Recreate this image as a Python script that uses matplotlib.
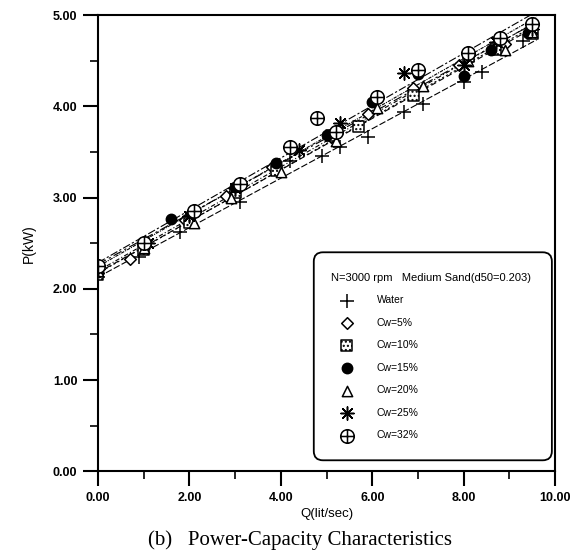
import numpy as np
import matplotlib.pyplot as plt
from matplotlib.path import Path
from matplotlib.patches import FancyBboxPatch
from matplotlib.ticker import MultipleLocator

plt.rcParams['font.family'] = ['Liberation Sans', 'DejaVu Sans']
plt.rcParams['hatch.linewidth'] = 1.0

# measured points for each slurry concentration
q_water = [0.0, 0.9, 1.8, 3.1, 4.2, 4.9, 5.3, 5.9, 6.7, 7.1, 8.0, 8.4, 9.3]
p_water = [2.13, 2.35, 2.62, 2.95, 3.40, 3.46, 3.55, 3.66, 3.94, 4.02, 4.27, 4.38, 4.72]

q_cw5 = [0.0, 0.7, 1.9, 2.8, 3.8, 5.1, 5.9, 6.9, 7.9, 8.9, 9.5]
p_cw5 = [2.17, 2.33, 2.75, 3.02, 3.33, 3.66, 3.92, 4.20, 4.45, 4.68, 4.86]

q_cw10 = [0.0, 1.0, 2.0, 3.0, 3.9, 5.1, 5.7, 6.9, 8.1, 8.7, 9.5]
p_cw10 = [2.15, 2.43, 2.72, 3.05, 3.30, 3.68, 3.78, 4.12, 4.55, 4.62, 4.80]

q_cw15 = [0.0, 1.0, 1.6, 3.0, 3.9, 5.0, 6.0, 7.0, 8.0, 8.6, 9.4]
p_cw15 = [2.18, 2.48, 2.76, 3.12, 3.38, 3.69, 4.05, 4.35, 4.33, 4.62, 4.80]

q_cw20 = [0.0, 1.0, 2.1, 2.9, 4.0, 5.2, 6.1, 7.1, 8.1, 8.9, 9.5]
p_cw20 = [2.20, 2.45, 2.72, 3.00, 3.28, 3.62, 3.98, 4.22, 4.50, 4.62, 4.82]

q_cw25 = [0.0, 1.1, 2.0, 3.0, 4.4, 5.3, 6.7, 8.0, 8.7, 9.5]
p_cw25 = [2.22, 2.50, 2.80, 3.10, 3.52, 3.82, 4.36, 4.45, 4.70, 4.85]

q_cw32 = [0.0, 1.0, 2.1, 3.1, 4.2, 4.8, 5.2, 6.1, 7.0, 8.1, 8.8, 9.5]
p_cw32 = [2.25, 2.50, 2.85, 3.15, 3.55, 3.87, 3.72, 4.10, 4.40, 4.58, 4.75, 4.90]

labels = ["Water", "Cw=5%", "Cw=10%", "Cw=15%", "Cw=20%", "Cw=25%", "Cw=32%"]
series = [(q_water, p_water), (q_cw5, p_cw5), (q_cw10, p_cw10), (q_cw15, p_cw15),
          (q_cw20, p_cw20), (q_cw25, p_cw25), (q_cw32, p_cw32)]

# circle with a cross inside
oplus = Path.make_compound_path(
    Path.unit_circle(),
    Path([[-1, 0], [1, 0]], [Path.MOVETO, Path.LINETO]),
    Path([[0, -1], [0, 1]], [Path.MOVETO, Path.LINETO]),
)

markers = ['+', 'D', 's', 'o', '^', (8, 2, 0), oplus]
sizes = [90, 35, 60, 55, 55, 90, 95]
faces = ['black', 'white', 'white', 'black', 'white', 'black', 'white']
hatches = [None, None, '....', None, None, None, None]
dashes = [(6, 2), (4, 2, 1, 2), (2, 2), (8, 3, 2, 3), (5, 3), (3, 1, 1, 1), (7, 2, 2, 2)]

fig = plt.figure(figsize=(5.77, 5.59), dpi=100)
ax = fig.add_axes([0.170, 0.157, 0.792, 0.816])

xfit = np.array([0.0, 9.6])
handles = []
for i, (q, p) in enumerate(series):
    q = np.array(q)
    p = np.array(p)
    # least-squares line through each series
    a, b = np.polyfit(q, p, 1)
    ax.plot(xfit, a * xfit + b, color='black', lw=0.8, dashes=dashes[i], zorder=2)
    h = ax.scatter(q, p, marker=markers[i], s=sizes[i], facecolors=faces[i],
                   edgecolors='black', linewidths=1.1, hatch=hatches[i],
                   label=labels[i], zorder=3)
    handles.append(h)

ax.set_xlim(0, 10)
ax.set_ylim(0, 5)
ax.xaxis.set_major_locator(MultipleLocator(2))
ax.xaxis.set_minor_locator(MultipleLocator(1))
ax.yaxis.set_major_locator(MultipleLocator(1))
ax.yaxis.set_minor_locator(MultipleLocator(0.5))
ax.xaxis.set_major_formatter(lambda v, pos: f"{v:.2f}")
ax.yaxis.set_major_formatter(lambda v, pos: f"{v:.2f}")
ax.tick_params(which='major', direction='out', length=11, width=1.5,
               labelsize=9, pad=4)
ax.tick_params(which='minor', direction='out', length=6, width=1.2)
for lab in ax.get_xticklabels() + ax.get_yticklabels():
    lab.set_fontweight('bold')
for s in ax.spines.values():
    s.set_linewidth(1.5)

ax.set_xlabel("Q(lit/sec)", fontsize=9.5, labelpad=3)
ax.set_ylabel("P(kW)", fontsize=10, labelpad=12)

# rounded legend frame
box = FancyBboxPatch((0.472, 0.024), 0.521, 0.456,
                     boxstyle="round,pad=0,rounding_size=0.02",
                     transform=ax.transAxes, facecolor='white',
                     edgecolor='black', linewidth=1.3, zorder=4)
ax.add_patch(box)

leg = ax.legend(handles=handles, title="N=3000 rpm   Medium Sand(d50=0.203)",
                loc='upper left', bbox_to_anchor=(0.51, 0.435),
                fontsize=7.5, title_fontsize=8, frameon=False,
                labelspacing=1.2, handlelength=3.0, handletextpad=1.4,
                borderpad=0, borderaxespad=0, scatterpoints=1,
                alignment='left')
leg.set_zorder(5)

fig.text(0.52, 0.034, "(b)   Power-Capacity Characteristics", ha='center',
         va='center', fontsize=15, family='Liberation Serif')

fig.savefig("out.png", dpi=100)
